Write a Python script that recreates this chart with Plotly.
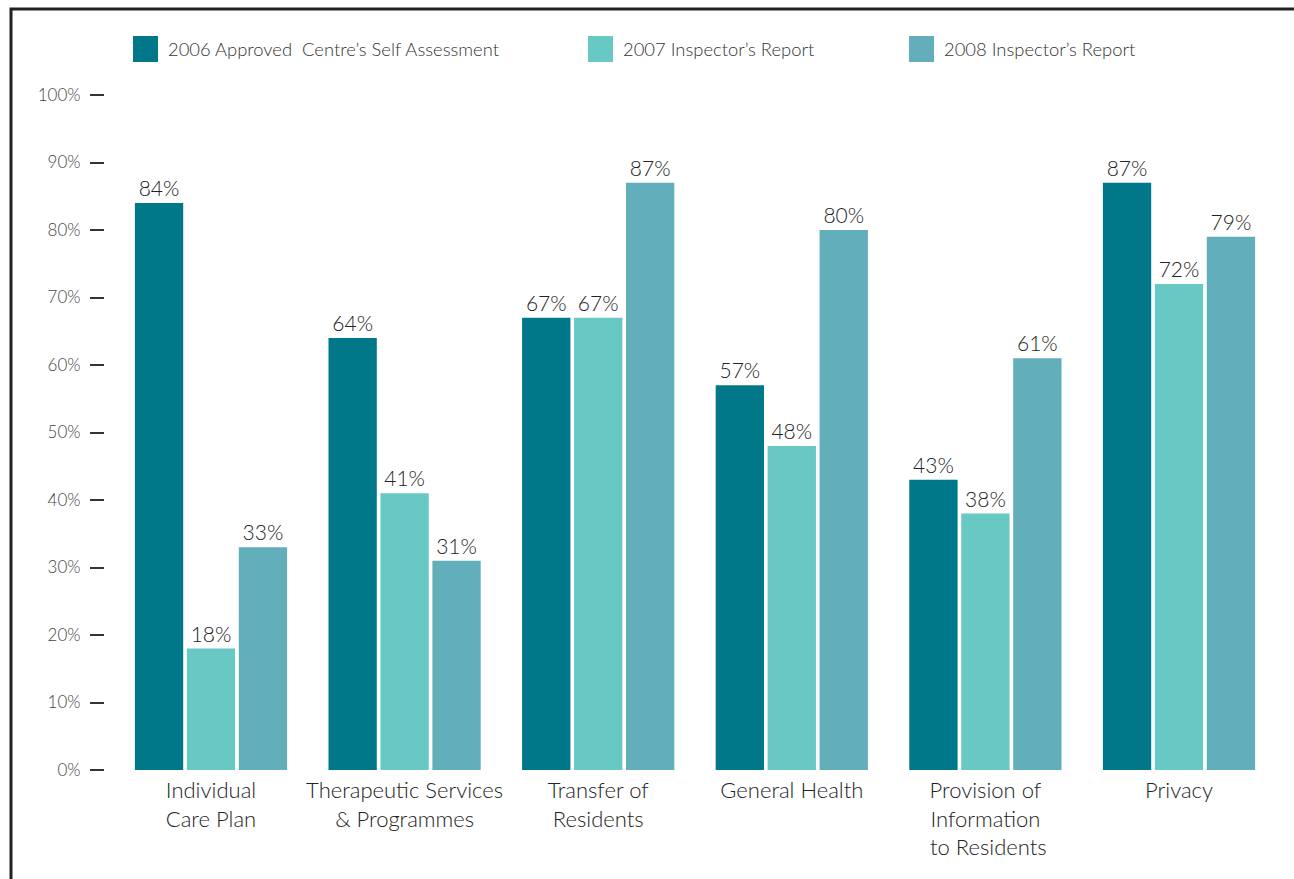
import plotly.graph_objects as go

# Categories and survey results (percent compliance)
categories = [
    "Individual<br>Care Plan",
    "Therapeutic Services<br>& Programmes",
    "Transfer of<br>Residents",
    "General Health",
    "Provision of<br>Information<br> to Residents",
    "Privacy",
]
series_names = [
    "2006 Approved  Centre\u2019s Self Assessment",
    "2007 Inspector\u2019s Report",
    "2008 Inspector\u2019s Report",
]
values_2006 = [84, 64, 67, 57, 43, 87]
values_2007 = [18, 41, 67, 48, 38, 72]
values_2008 = [33, 31, 87, 80, 61, 79]
y_ticks = [0, 10, 20, 30, 40, 50, 60, 70, 80, 90, 100]

colors = ["#00788A", "#68C8C4", "#62AEBB"]
FONT = "Lato"
WEIGHT = 300
TEXT = "#333333"

fig = go.Figure()
for name, vals, col in zip(series_names, [values_2006, values_2007, values_2008], colors):
    fig.add_trace(go.Bar(
        x=list(range(len(categories))),
        y=vals,
        name=name,
        marker=dict(color=col, line=dict(width=0)),
        text=[f"{v}%" for v in vals],
        textposition="outside",
        textfont=dict(family=FONT, size=21, color="#222222", weight=WEIGHT),
        cliponaxis=False,
        showlegend=False,
    ))

# Plot area geometry (pixels)
W, H = 1294, 879
L, R, T, B = 105, 17, 95, 109
plot_w = W - L - R
plot_h = H - T - B

def px_to_paper_x(px):
    return (px - L) / plot_w

def px_to_paper_y(py):
    return (H - B - py) / plot_h

shapes = []
annotations = []

# Legend: coloured squares with labels along the top
legend_x = [133, 588, 909]
for name, col, lx in zip(series_names, colors, legend_x):
    shapes.append(dict(
        type="rect", xref="paper", yref="paper",
        x0=px_to_paper_x(lx), x1=px_to_paper_x(lx + 25),
        y0=px_to_paper_y(62), y1=px_to_paper_y(36),
        fillcolor=col, line=dict(width=0),
    ))
    annotations.append(dict(
        xref="paper", yref="paper",
        x=px_to_paper_x(lx + 33), y=px_to_paper_y(49),
        xanchor="left", yanchor="middle",
        text=name, showarrow=False,
        font=dict(family=FONT, size=18.4, color=TEXT, weight=WEIGHT),
    ))

# Outer frame (top and left edges visible)
shapes.append(dict(
    type="rect", xref="paper", yref="paper",
    x0=px_to_paper_x(11), x1=px_to_paper_x(W + 20),
    y0=px_to_paper_y(H + 20), y1=px_to_paper_y(9),
    line=dict(color="#222222", width=3), fillcolor="rgba(0,0,0,0)",
    layer="below",
))

unit = 193.6
x0_range = -(211 - L) / unit
x1_range = x0_range + plot_w / unit

fig.update_layout(
    width=W, height=H,
    margin=dict(l=L, r=R, t=T, b=B, pad=0),
    paper_bgcolor="white", plot_bgcolor="white",
    barmode="group", bargap=0.195, bargroupgap=0.07,
    font=dict(family=FONT, color=TEXT),
    shapes=shapes, annotations=annotations,
    xaxis=dict(
        range=[x0_range, x1_range],
        tickmode="array", tickvals=list(range(len(categories))), ticktext=categories,
        tickfont=dict(family=FONT, size=22, color="#222222", weight=WEIGHT),
        showgrid=False, zeroline=False, showline=False, ticks="",
        ticklabelstandoff=5,
    ),
    yaxis=dict(
        range=[0, 100],
        tickmode="array", tickvals=y_ticks, ticktext=[f"{t}%" for t in y_ticks],
        tickfont=dict(family=FONT, size=17, color="#444444", weight=WEIGHT),
        ticks="outside", ticklen=14, tickwidth=1.5, tickcolor="#333333",
        ticklabelstandoff=6,
        showgrid=False, zeroline=False, showline=False,
    ),
)

fig.write_html("out.html")
